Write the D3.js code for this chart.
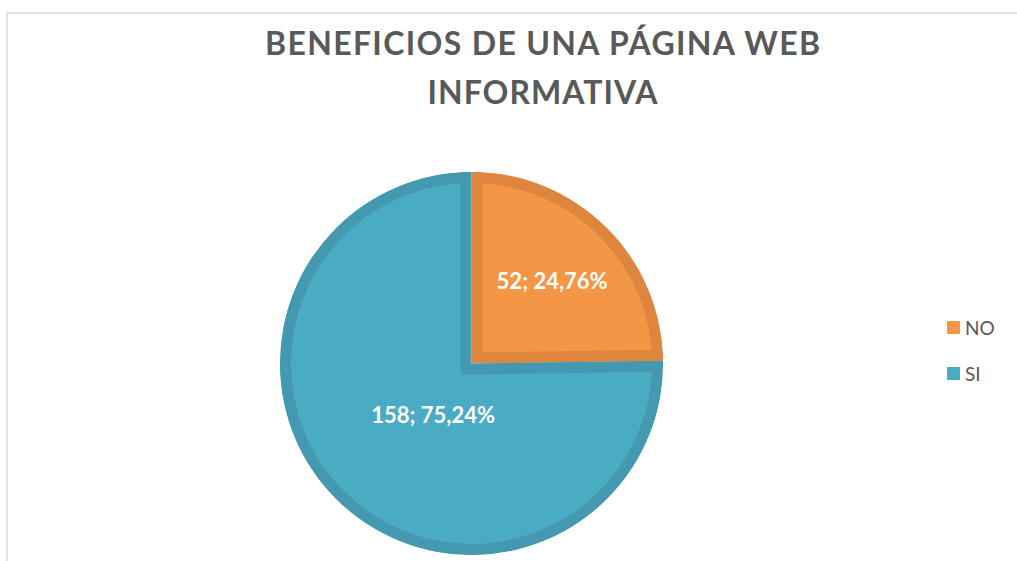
<!DOCTYPE html>
<html>
<head>
<meta charset="utf-8">
<script src="https://cdn.jsdelivr.net/npm/d3@7"></script>
<style>
  body { margin: 0; background: #fff; }
  svg { display: block; font-family: Lato, "Open Sans", sans-serif; }
</style>
</head>
<body>
<svg id="chart" width="1017" height="561"></svg>
<script>
// data
const categories = ['NO', 'SI']
const counts = [52, 158]
const percents = ['24,76%', '75,24%']
const titleLines = ['BENEFICIOS DE UNA PÁGINA WEB', 'INFORMATIVA']

const fills = ['#f39646', '#4aabc5']
const borders = ['#de863e', '#4499b1']

const svg = d3.select('#chart')
const cx = 471.5, cy = 363.5, r = 191.5, border = 11

// chart frame
svg.append('rect')
  .attr('x', 7).attr('y', 13)
  .attr('width', 1100).attr('height', 700)
  .attr('fill', 'none')
  .attr('stroke', '#d9d9d9')
  .attr('stroke-width', 1.5)

// title, stretched to the width of the original
const titleWidths = [555, 230]
const titleBase = [55, 104]
titleLines.forEach(function (line, i) {
  let t = svg.append('text')
    .attr('x', 542.5).attr('y', titleBase[i])
    .attr('text-anchor', 'middle')
    .attr('font-size', 32)
    .attr('font-weight', 700)
    .attr('fill', '#595959')
    .text(line)
  let w = t.node().getComputedTextLength()
  let sp = (titleWidths[i] - w) / (line.length - 1)
  t.attr('letter-spacing', sp)
    .attr('x', 542.5 + sp / 2)
})

// pie
const data = categories.map((c, i) => ({ cat: c, value: counts[i], pct: percents[i], i: i }))
const pie = d3.pie().sort(null).value(d => d.value)
const arcs = pie(data)
const arc = d3.arc().innerRadius(0).outerRadius(r)

const g = svg.append('g').attr('transform', `translate(${cx},${cy})`)
const defs = svg.append('defs')

arcs.forEach(function (a, i) {
  defs.append('clipPath').attr('id', 'clip' + i)
    .append('path').attr('d', arc(a))
  // border sits on the inside of each slice
  g.append('path')
    .attr('d', arc(a))
    .attr('fill', fills[i])
    .attr('stroke', borders[i])
    .attr('stroke-width', border * 2)
    .attr('clip-path', `url(#clip${i})`)
})

// data labels (best-fit spots, roughly)
const labelRatio = [0.6, 0.36]
const labelNudge = [[0, 0], [10, 3]]
arcs.forEach(function (a, i) {
  let la = d3.arc().innerRadius(r * labelRatio[i]).outerRadius(r * labelRatio[i])
  let p = la.centroid(a)
  g.append('text')
    .attr('x', p[0] + labelNudge[i][0]).attr('y', p[1] + labelNudge[i][1])
    .attr('dy', '0.35em')
    .attr('text-anchor', 'middle')
    .attr('font-size', 22)
    .attr('font-weight', 700)
    .attr('fill', '#fff')
    .text(a.data.value + '; ' + a.data.pct)
})

// legend
const legend = svg.append('g').attr('transform', 'translate(947,321)')
categories.forEach(function (c, i) {
  let row = legend.append('g').attr('transform', `translate(0,${i * 46})`)
  row.append('rect')
    .attr('width', 13).attr('height', 13)
    .attr('fill', fills[i])
  row.append('text')
    .attr('x', 18).attr('y', 13.5)
    .attr('font-size', 19)
    .attr('fill', '#595959')
    .text(c)
})
</script>
</body>
</html>
